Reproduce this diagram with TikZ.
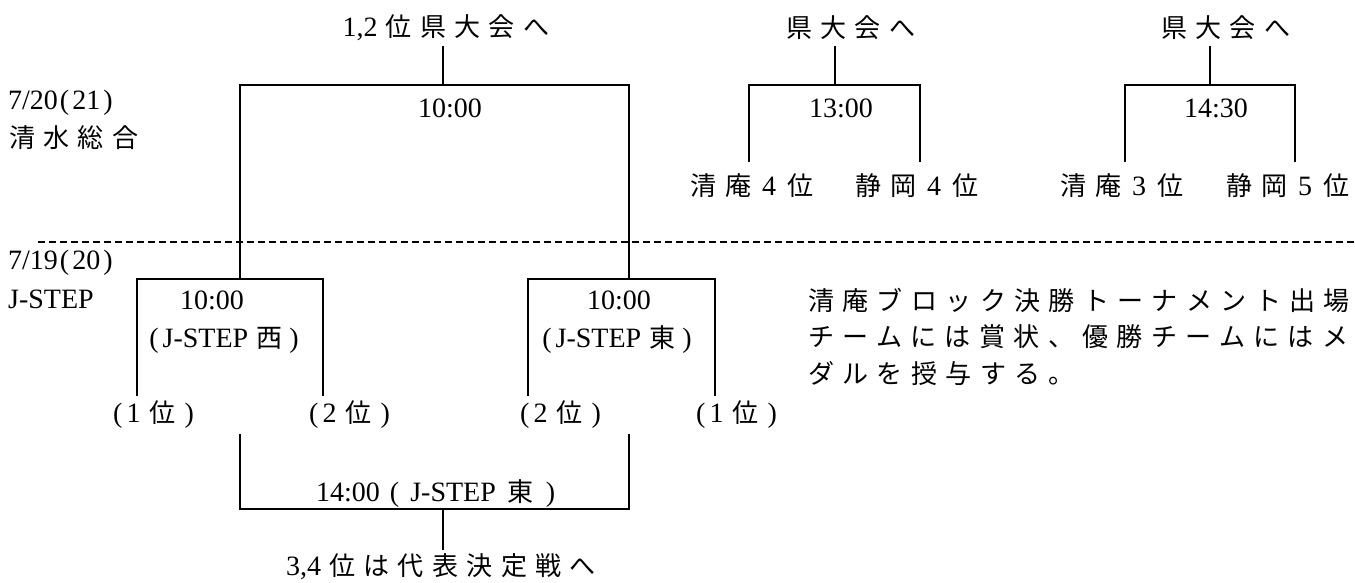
\documentclass[tikz,border=0pt]{standalone}
\usepackage{fontspec}
\setmainfont{Liberation Serif}
\newfontfamily\jpf[LetterSpace=32,Scale=0.93]{Noto Sans CJK JP}
\newcommand\J[1]{{\jpf #1}}
\newcommand\hs[1]{\hspace{#1pt}}
\begin{document}
\begin{tikzpicture}[x=1pt,y=-1pt,
  txt/.style={inner sep=0pt,font=\fontsize{28}{32}\selectfont},
  lbl/.style={txt,anchor=west},
  ln/.style={line width=1.6pt},
  dsh/.style={line width=1.3pt,dash pattern=on 7pt off 4pt}]
\useasboundingbox (0,0) rectangle (1355,582);
% --- top labels
\node[txt] (t1) at (446,28) {1,2\hs{8}\J{位県大会へ}};
\node[lbl] (t2) at (786,28) {\J{県大会へ}};
\node[lbl] (t3) at (1161,28) {\J{県大会へ}};
\node[txt] (m1) at (450,108) {10:00};
\node[txt] (m2) at (841,108) {13:00};
\node[txt] (m3) at (1216,108) {14:30};
\node[lbl] (d1) at (8,103) {7/20\hs{2}(\hs{3}21\hs{3})};
\node[lbl] (d2) at (9,138) {\J{清水総合}};
\node[txt] (p1) at (752,186) {\J{清庵}\hs{11}4\hs{11}\J{位}};
\node[txt] (p2) at (917,186) {\J{静岡}\hs{11}4\hs{11}\J{位}};
\node[txt] (p3) at (1122,186) {\J{清庵}\hs{11}3\hs{11}\J{位}};
\node[txt] (p4) at (1288,186) {\J{静岡}\hs{11}5\hs{11}\J{位}};
% --- lower labels
\node[lbl] (d3) at (8,263) {7/19\hs{2}(\hs{3}20\hs{3})};
\node[lbl] (d4) at (8,299) {J-STEP};
\node[txt] (w1) at (212,300) {10:00};
\node[txt] (w2) at (224,340) {(\hs{4}J-STEP\hs{8}\J{西}\hs{7})};
\node[txt] (e1) at (619,300) {10:00};
\node[txt] (e2) at (617,340) {(\hs{4}J-STEP\hs{8}\J{東}\hs{7})};
\node[lbl] (q1) at (113,415) {(\hs{4}1\hs{9}\J{位}\hs{9})};
\node[lbl] (q2) at (309,415) {(\hs{4}2\hs{9}\J{位}\hs{9})};
\node[lbl] (q3) at (520,415) {(\hs{4}2\hs{9}\J{位}\hs{9})};
\node[lbl] (q4) at (696,415) {(\hs{4}1\hs{9}\J{位}\hs{9})};
\node[lbl] (f1) at (316,494) {14:00\hs{10}(\hs{11}J-STEP\hs{12}\J{東}\hs{12})};
\node[txt] (f2) at (441,567) {3,4\hs{8}\J{位は代表決定戦へ}};
\node[lbl] (n1) at (808,300) {\J{清庵ブロック決勝トーナメント出場}};
\node[lbl] (n2) at (808,337) {\J{チームには賞状、優勝チームにはメ}};
\node[lbl] (n3) at (808,374) {\J{ダルを授与する。}};
% --- junction coordinates
\coordinate (a0) at (443,46);  \coordinate (a1) at (443,85);
\coordinate (aL) at (240,85);  \coordinate (aR) at (629,85);
\coordinate (wT) at (240,279); \coordinate (eT) at (629,279);
\coordinate (b0) at (835,46);  \coordinate (b1) at (835,85);
\coordinate (bL) at (749,85);  \coordinate (bR) at (920,85);
\coordinate (bLd) at (749,162); \coordinate (bRd) at (920,162);
\coordinate (c0) at (1210,46); \coordinate (c1) at (1210,85);
\coordinate (cL) at (1125,85); \coordinate (cR) at (1295,85);
\coordinate (cLd) at (1125,162); \coordinate (cRd) at (1295,162);
\coordinate (wL) at (137,279); \coordinate (wR) at (323,279);
\coordinate (wLd) at (137,396); \coordinate (wRd) at (323,396);
\coordinate (eL) at (528,279); \coordinate (eR) at (715,279);
\coordinate (eLd) at (528,396); \coordinate (eRd) at (715,396);
\coordinate (gL0) at (240,434); \coordinate (gR0) at (629,434);
\coordinate (gL) at (240,509); \coordinate (gR) at (629,509);
\coordinate (g1) at (443,509); \coordinate (g2) at (443,550);
\coordinate (s0) at (38,242); \coordinate (s1) at (1355,242);
% --- lines
\draw[ln] (a0) -- (a1);
\draw[ln] (wT) -- (aL) -- (aR) -- (eT);
\draw[ln] (b0) -- (b1);
\draw[ln] (bLd) -- (bL) -- (bR) -- (bRd);
\draw[ln] (c0) -- (c1);
\draw[ln] (cLd) -- (cL) -- (cR) -- (cRd);
\draw[ln] (wLd) -- (wL) -- (wR) -- (wRd);
\draw[ln] (eLd) -- (eL) -- (eR) -- (eRd);
\draw[ln] (gL0) -- (gL) -- (gR) -- (gR0);
\draw[ln] (g1) -- (g2);
\draw[dsh] (s0) -- (s1);
\end{tikzpicture}
\end{document}
